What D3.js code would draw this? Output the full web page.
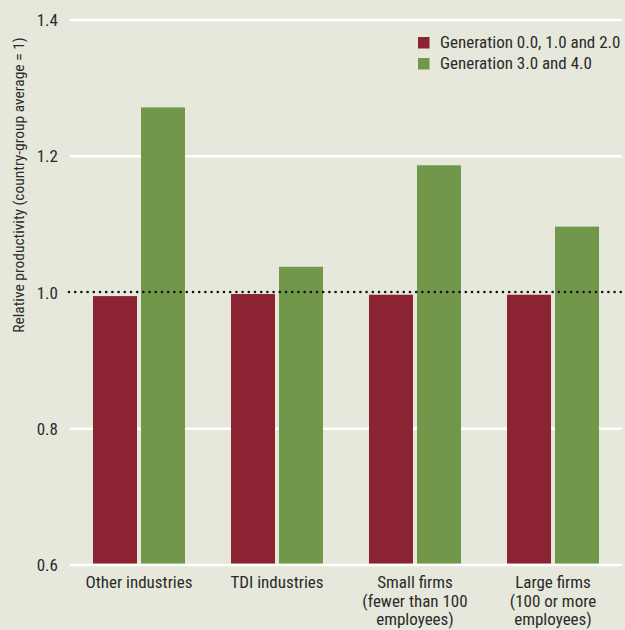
<!DOCTYPE html>
<html>
<head>
<meta charset="utf-8">
<script src="https://cdn.jsdelivr.net/npm/d3@7"></script>
<style>
  html, body { margin: 0; padding: 0; background: #e5e8da; }
  svg { display: block; }
  text { font-family: "Liberation Sans Narrow", "Arial Narrow", "Roboto Condensed", sans-serif; fill: #2b2b2b; }
</style>
</head>
<body>
<script>
const categories = [
  ["Other industries"],
  ["TDI industries"],
  ["Small firms", "(fewer than 100", "employees)"],
  ["Large firms", "(100 or more", "employees)"]
];
const seriesNames = ["Generation 0.0, 1.0 and 2.0", "Generation 3.0 and 4.0"];
const seriesColors = ["#8b2332", "#71974b"];
const gen012 = [0.994, 0.997, 0.996, 0.996];
const gen34 = [1.271, 1.037, 1.186, 1.096];
const yTicks = [0.6, 0.8, 1.0, 1.2, 1.4];
const yLabel = "Relative productivity (country-group average = 1)";
const refValue = 1.0;

const W = 625, H = 630;
const margin = { left: 70, right: 3, top: 19.5, bottom: 65.5 };

const svg = d3.select("body").append("svg").attr("width", W).attr("height", H);
svg.append("rect").attr("width", W).attr("height", H).attr("fill", "#e5e8da");

const x = d3.scaleBand().domain(d3.range(categories.length))
  .range([margin.left, W - margin.right]).paddingInner(0).paddingOuter(0);
const y = d3.scaleLinear().domain([0.6, 1.4]).range([H - margin.bottom, margin.top]);

const barW = 44, gap = 4;
const sub = d3.scaleOrdinal().domain([0, 1]).range([-(barW + gap / 2), gap / 2]);

// gridlines
const yAxis = d3.axisLeft(y).tickValues(yTicks).tickFormat(d3.format(".1f"))
  .tickSize(-(W - margin.right - margin.left)).tickPadding(12);
const gy = svg.append("g").attr("transform", `translate(${margin.left},0)`).call(yAxis);
gy.select(".domain").remove();
gy.selectAll(".tick line").attr("stroke", "#ffffff").attr("stroke-width", 2.5)
  .attr("opacity", d => d === refValue ? 0 : 1);
gy.selectAll(".tick text").attr("font-size", 17).attr("fill", "#2b2b2b")
  .attr("x", -12).attr("dy", "0.36em");

// bars
const data = [];
categories.forEach((c, i) => {
  data.push({ i, s: 0, v: gen012[i] });
  data.push({ i, s: 1, v: gen34[i] });
});
svg.append("g").selectAll("rect").data(data).join("rect")
  .attr("x", d => x(d.i) + x.bandwidth() / 2 + sub(d.s))
  .attr("width", barW)
  .attr("y", d => y(d.v))
  .attr("height", d => y(0.6) - y(d.v) - 1)
  .attr("fill", d => seriesColors[d.s]);

// reference dotted line
svg.append("line")
  .attr("x1", margin.left - 1).attr("x2", W - margin.right)
  .attr("y1", y(refValue)).attr("y2", y(refValue))
  .attr("stroke", "#111").attr("stroke-width", 2.6)
  .attr("stroke-linecap", "round").attr("stroke-dasharray", "0,6.2");

// x labels
const gx = svg.append("g");
categories.forEach((lines, i) => {
  const t = gx.append("text").attr("text-anchor", "middle").attr("font-size", 17)
    .attr("x", x(i) + x.bandwidth() / 2).attr("y", 588);
  lines.forEach((ln, k) => {
    t.append("tspan").attr("x", x(i) + x.bandwidth() / 2).attr("dy", k === 0 ? 0 : 18.7).text(ln);
  });
});

// y label
svg.append("text").attr("font-size", 15.5).attr("text-anchor", "middle")
  .attr("transform", `translate(23.5,${185}) rotate(-90)`).text(yLabel);

// legend
const lg = svg.append("g");
seriesNames.forEach((n, k) => {
  lg.append("rect").attr("x", 418).attr("y", 37 + k * 21).attr("width", 11.5).attr("height", 11.5)
    .attr("fill", seriesColors[k]);
  lg.append("text").attr("x", 440).attr("y", 48 + k * 21).attr("font-size", 17).text(n);
});
</script>
</body>
</html>
